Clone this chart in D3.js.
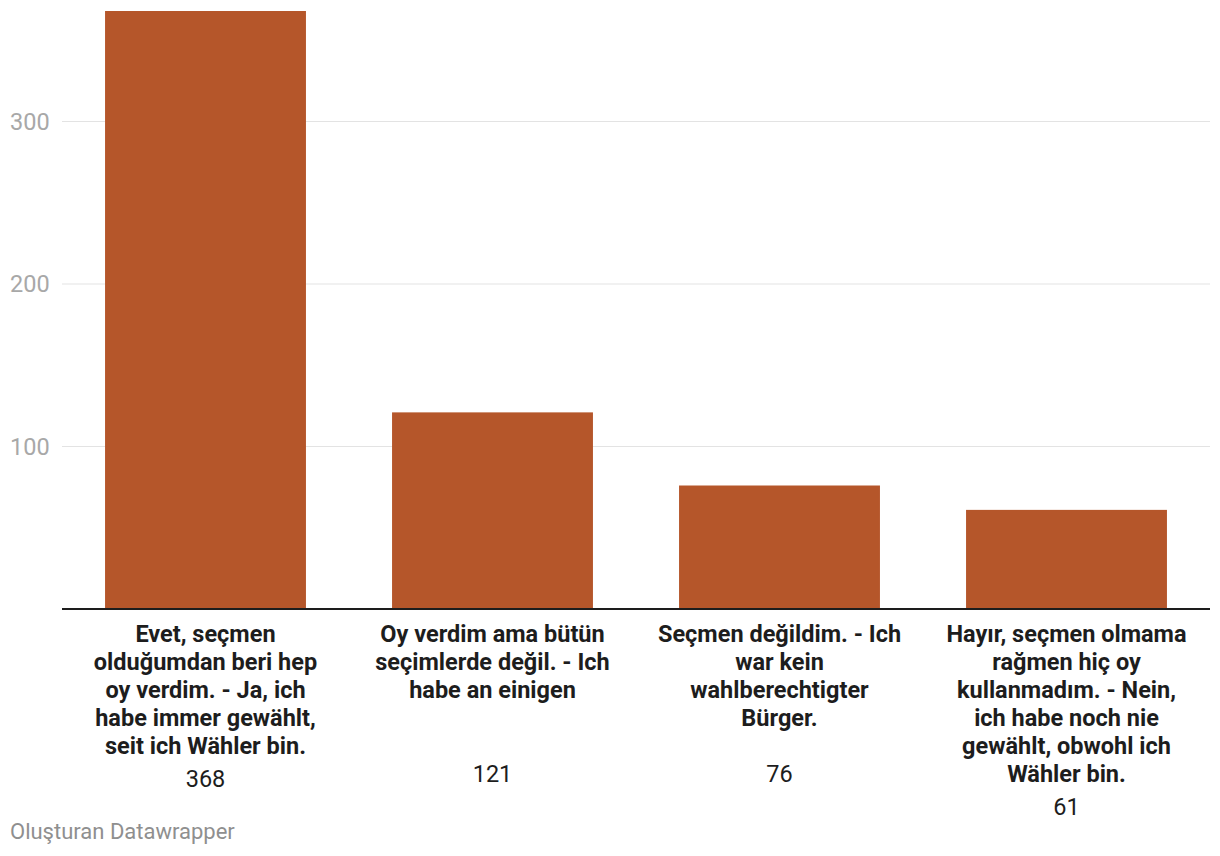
<!DOCTYPE html>
<html><head><meta charset="utf-8">
<script src="https://cdn.jsdelivr.net/npm/d3@7"></script>
<style>body{margin:0;background:#fff;font-family:Roboto,sans-serif;}</style>
</head><body>
<svg id="c" width="1220" height="856"></svg>
<script>
const categories = [
  "Evet, seçmen olduğumdan beri hep oy verdim. - Ja, ich habe immer gewählt, seit ich Wähler bin.",
  "Oy verdim ama bütün seçimlerde değil. - Ich habe an einigen",
  "Seçmen değildim. - Ich war kein wahlberechtigter Bürger.",
  "Hayır, seçmen olmama rağmen hiç oy kullanmadım. - Nein, ich habe noch nie gewählt, obwohl ich Wähler bin."
];
const values = [368, 121, 76, 61];
const tickValues = [100, 200, 300];
const credit = "Oluşturan Datawrapper";

const FS = 23.5;
const svg = d3.select("#c");
const x = d3.scaleBand().domain(categories).range([62, 1210]).paddingInner(0.3).paddingOuter(0.15);
const y = d3.scaleLinear().domain([0, 368]).range([609, 11]);

// gridlines + tick labels
const g = svg.append("g");
g.selectAll("line.grid").data(tickValues).join("line")
  .attr("x1", 62).attr("x2", 1210)
  .attr("y1", d => y(d)).attr("y2", d => y(d))
  .attr("stroke", "#e3e3e3").attr("stroke-width", 1);
g.selectAll("text.tick").data(tickValues).join("text")
  .attr("x", 10).attr("y", d => y(d)).attr("dy", "0.35em")
  .attr("fill", "#a8a8a8").attr("font-size", FS).text(d => d);

// bars
svg.selectAll("rect.bar").data(values).join("rect")
  .attr("x", (d, i) => x(categories[i])).attr("width", x.bandwidth())
  .attr("y", d => y(d)).attr("height", d => y(0) - y(d))
  .attr("fill", "#b5562a");

// baseline
svg.append("line").attr("x1", 62).attr("x2", 1210).attr("y1", 609).attr("y2", 609)
  .attr("stroke", "#1d1d1d").attr("stroke-width", 2);

// category labels with wrapping
const maxW = 250, lh = 28, firstY = 642;
categories.forEach((c, i) => {
  const cx = x(c) + x.bandwidth() / 2;
  const t = svg.append("text").attr("x", cx).attr("text-anchor", "middle")
    .attr("font-size", FS).attr("font-weight", 700).attr("fill", "#1d1d1d");
  const words = c.split(" ");
  let lines = [], cur = [];
  const probe = svg.append("text").attr("font-size", FS).attr("font-weight", 700).attr("visibility","hidden");
  words.forEach(w => {
    const test = cur.concat([w]).join(" ");
    probe.text(test);
    if (cur.length && probe.node().getComputedTextLength() > maxW) { lines.push(cur.join(" ")); cur = [w]; }
    else cur.push(w);
  });
  if (cur.length) lines.push(cur.join(" "));
  probe.remove();
  lines.forEach((l, k) => t.append("tspan").attr("x", cx).attr("y", firstY + k * lh).text(l));
  const lastBase = firstY + (lines.length - 1) * lh;
  const vy = Math.max(782, lastBase + 33);
  svg.append("text").attr("x", cx).attr("y", vy).attr("text-anchor", "middle")
    .attr("font-size", FS).attr("fill", "#1d1d1d").text(values[i]);
});

svg.append("text").attr("x", 10).attr("y", 839).attr("font-size", 22).attr("fill", "#8f8f8f").text(credit);
</script>
</body></html>
